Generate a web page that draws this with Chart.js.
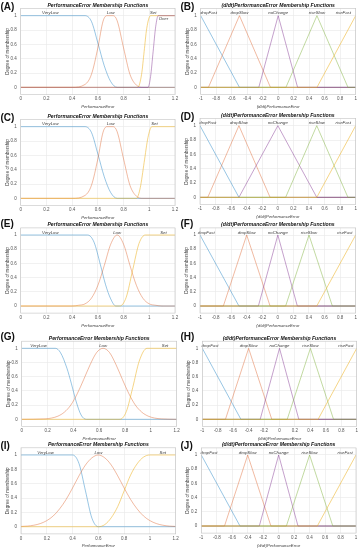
<!DOCTYPE html>
<html>
<head>
<meta charset="utf-8">
<script src="https://cdn.jsdelivr.net/npm/chart.js@4"></script>
<style>
  html, body { margin: 0; padding: 0; background: #fff; }
  #fig { position: relative; width: 360px; height: 550px; overflow: hidden; font-family: "Liberation Sans", Arial, sans-serif; }
  #fig canvas { position: absolute; }
  .tag { position: absolute; font-weight: bold; font-size: 10px; line-height: 10px; color: #111; }
</style>
</head>
<body>
<div id="fig"></div>
<script>
// ── TICKS & NAMES ───────────────────────────────
const errTicks  = [0, 0.2, 0.4, 0.6, 0.8, 1, 1.2];
const dErrTicks = [-1, -0.8, -0.6, -0.4, -0.2, 0, 0.2, 0.4, 0.6, 0.8, 1];
const degTicks  = [0, 0.2, 0.4, 0.6, 0.8, 1];
const errNames  = ['VeryLow', 'Low', 'Set', 'Over'];
const dErrNames = ['dropFast', 'dropSlow', 'noChange', 'riseSlow', 'riseFast'];

// ── (A) ─────────────────────────────────────────
const aVeryLow = [[0,1],[0.5,1],[0.55,0.92],[0.6,0.62],[0.65,0.3],[0.7,0.08],[0.75,0],[1.2,0]];
const aLow     = [[0,0],[0.4,0],[0.5,0.04],[0.55,0.18],[0.6,0.55],[0.64,0.92],[0.67,1],[0.72,1],[0.75,0.93],[0.8,0.55],[0.85,0.18],[0.9,0.03],[0.95,0],[1.2,0]];
const aSet     = [[0,0],[0.91,0],[0.94,0.18],[0.96,0.5],[0.98,0.82],[1.01,1],[1.2,1]];
const aOver    = [[0,0],[0.99,0],[1.01,0.15],[1.03,0.5],[1.05,0.85],[1.07,1],[1.2,1]];
const aLabelX  = [0.23, 0.7, 1.03, 1.11];
const aLabelY  = [1.035, 1.035, 1.035, 0.95];

// ── (B) ─────────────────────────────────────────
const bDropFast = [[-1,1],[-0.5,0],[1,0]];
const bDropSlow = [[-1,0],[-0.9,0],[-0.5,1],[-0.1,0],[1,0]];
const bNoChange = [[-1,0],[-0.25,0],[0,1],[0.25,0],[1,0]];
const bRiseSlow = [[-1,0],[0.1,0],[0.5,1],[0.9,0],[1,0]];
const bRiseFast = [[-1,0],[0.5,0],[1,1]];
const bLabelX   = [-0.9, -0.5, 0, 0.5, 0.84];

// ── (C) ─────────────────────────────────────────
const cVeryLow = [[0,1],[0.5,1],[0.55,0.92],[0.6,0.62],[0.65,0.3],[0.7,0.08],[0.75,0],[1.2,0]];
const cLow     = [[0,0],[0.4,0],[0.5,0.04],[0.55,0.18],[0.6,0.55],[0.64,0.92],[0.67,1],[0.72,1],[0.75,0.93],[0.8,0.55],[0.85,0.18],[0.9,0.03],[0.95,0],[1.2,0]];
const cSet     = [[0,0],[0.9,0],[0.93,0.15],[0.96,0.5],[0.99,0.85],[1.02,1],[1.2,1]];
const cLabelX  = [0.23, 0.7, 1.04];

// ── (D) ─────────────────────────────────────────
const dDropFast = [[-1,1],[-0.5,0],[1,0]];
const dDropSlow = [[-1,0],[-0.9,0],[-0.5,1],[-0.1,0],[1,0]];
const dNoChange = [[-1,0],[-0.5,0],[0,1],[0.5,0],[1,0]];
const dRiseSlow = [[-1,0],[0.1,0],[0.5,1],[0.9,0],[1,0]];
const dRiseFast = [[-1,0],[0.5,0],[1,1]];
const dLabelX   = [-0.9, -0.5, 0, 0.5, 0.84];

// ── (E) ─────────────────────────────────────────
const eVeryLow = [[0,1],[0.52,1],[0.57,0.9],[0.62,0.58],[0.66,0.3],[0.7,0.1],[0.74,0],[1.2,0]];
const eLow     = [[0,0],[0.4,0],[0.45,0.01],[0.5,0.03],[0.55,0.11],[0.6,0.29],[0.65,0.57],[0.7,0.87],[0.75,1],[0.8,0.87],[0.85,0.57],[0.9,0.29],[0.95,0.11],[1,0.03],[1.05,0.01],[1.1,0],[1.2,0]];
const eSet     = [[0,0],[0.77,0],[0.82,0.12],[0.87,0.5],[0.92,0.88],[0.97,1],[1.2,1]];
const eLabelX  = [0.23, 0.75, 1.11];

// ── (F) ─────────────────────────────────────────
const fDropFast = [[-1,1],[-0.5,0],[1,0]];
const fDropSlow = [[-1,0],[-0.7,0],[-0.4,1],[-0.1,0],[1,0]];
const fNoChange = [[-1,0],[-0.25,0],[0,1],[0.25,0],[1,0]];
const fRiseSlow = [[-1,0],[0.1,0],[0.4,1],[0.7,0],[1,0]];
const fRiseFast = [[-1,0],[0.5,0],[1,1]];
const fLabelX   = [-0.92, -0.4, 0, 0.4, 0.86];

// ── (G) ─────────────────────────────────────────
const gVeryLow = [[0,1],[0.26,1],[0.3,0.94],[0.35,0.72],[0.385,0.5],[0.42,0.26],[0.46,0.06],[0.5,0],[1.2,0]];
const gLow     = [[0,0],[0.18,0.006],[0.23,0.017],[0.28,0.044],[0.33,0.1],[0.38,0.2],[0.43,0.36],[0.48,0.56],[0.53,0.77],[0.58,0.94],[0.63,1],[0.68,0.94],[0.73,0.77],[0.78,0.56],[0.83,0.36],[0.88,0.2],[0.93,0.1],[0.98,0.044],[1.03,0.017],[1.08,0.006],[1.2,0]];
const gSet     = [[0,0],[0.76,0],[0.81,0.11],[0.86,0.45],[0.91,0.82],[0.97,1],[1.2,1]];
const gLabelX  = [0.13, 0.63, 1.11];

// ── (H) ─────────────────────────────────────────
const hDropFast = [[-1,1],[-0.5,0],[1,0]];
const hDropSlow = [[-1,0],[-0.7,0],[-0.4,1],[-0.1,0],[1,0]];
const hNoChange = [[-1,0],[-0.25,0],[0,1],[0.25,0],[1,0]];
const hRiseSlow = [[-1,0],[0.1,0],[0.4,1],[0.7,0],[1,0]];
const hRiseFast = [[-1,0],[0.5,0],[1,1]];
const hLabelX   = [-0.9, -0.4, 0, 0.4, 0.86];

// ── (I) ─────────────────────────────────────────
const iVeryLow = [[0,1],[0.4,1],[0.45,0.88],[0.5,0.5],[0.55,0.12],[0.6,0],[1.2,0]];
const iLow     = [[0,0.004],[0.05,0.009],[0.1,0.021],[0.15,0.044],[0.2,0.085],[0.25,0.15],[0.3,0.25],[0.35,0.38],[0.4,0.54],[0.45,0.71],[0.5,0.86],[0.55,0.96],[0.6,1],[0.65,0.96],[0.7,0.86],[0.75,0.71],[0.8,0.54],[0.85,0.38],[0.9,0.25],[0.95,0.15],[1,0.085],[1.05,0.044],[1.1,0.021],[1.15,0.009],[1.2,0.004]];
const iSet     = [[0,0],[0.6,0],[0.65,0.03],[0.7,0.125],[0.75,0.28],[0.8,0.5],[0.85,0.72],[0.9,0.875],[0.95,0.97],[1,1],[1.2,1]];
const iLabelX  = [0.19, 0.6, 1.1];

// ── (J) ─────────────────────────────────────────
const jDropFast = [[-1,1],[-0.5,0],[1,0]];
const jDropSlow = [[-1,0],[-0.7,0],[-0.4,1],[-0.1,0],[1,0]];
const jNoChange = [[-1,0],[-0.25,0],[0,1],[0.25,0],[1,0]];
const jRiseSlow = [[-1,0],[0.1,0],[0.4,1],[0.7,0],[1,0]];
const jRiseFast = [[-1,0],[0.5,0],[1,1]];
const jLabelX   = [-0.9, -0.4, 0, 0.4, 0.86];

// ── STYLE ───────────────────────────────────────
const FONT = '"Liberation Sans", Arial, sans-serif';
const BLUE = 'rgba(0,114,189,0.45)', ORANGE = 'rgba(217,83,25,0.45)', YELLOW = 'rgba(237,177,32,0.6)',
      PURPLE = 'rgba(126,47,142,0.5)', GREEN = 'rgba(119,172,48,0.5)';
const errColors  = [BLUE, ORANGE, YELLOW, PURPLE];
const dErrColors = [BLUE, ORANGE, PURPLE, GREEN, YELLOW];

// tag, column, tag top, plot box [left, top, right, bottom] in page px
const panels = [
  { tag:'(A)', col:0, tagTop:2.1,   box:[20.7, 8.5, 175, 94.5],     kind:'err',  curves:[aVeryLow,aLow,aSet,aOver], lx:aLabelX, ly:aLabelY },
  { tag:'(B)', col:1, tagTop:2.1,   box:[200.7, 8.5, 355.7, 94.5],  kind:'dErr', curves:[bDropFast,bDropSlow,bNoChange,bRiseSlow,bRiseFast], lx:bLabelX },
  { tag:'(C)', col:0, tagTop:112.8, box:[20.7, 119.5, 175, 205.5], kind:'err',  curves:[cVeryLow,cLow,cSet], lx:cLabelX },
  { tag:'(D)', col:1, tagTop:112.1, box:[200, 118.5, 355.7, 204.5], kind:'dErr', curves:[dDropFast,dDropSlow,dNoChange,dRiseSlow,dRiseFast], lx:dLabelX },
  { tag:'(E)', col:0, tagTop:218.5, box:[20.7, 227.9, 175, 313.1], kind:'err',  curves:[eVeryLow,eLow,eSet], lx:eLabelX },
  { tag:'(F)', col:1, tagTop:218.5, box:[200, 227.9, 355.7, 313.1], kind:'dErr', curves:[fDropFast,fDropSlow,fNoChange,fRiseSlow,fRiseFast], lx:fLabelX },
  { tag:'(G)', col:0, tagTop:332.1, box:[21.7, 341.2, 176.7, 426.4], kind:'err', curves:[gVeryLow,gLow,gSet], lx:gLabelX },
  { tag:'(H)', col:1, tagTop:332.1, box:[202.3, 341.2, 356.7, 426.4], kind:'dErr', curves:[hDropFast,hDropSlow,hNoChange,hRiseSlow,hRiseFast], lx:hLabelX },
  { tag:'(I)', col:0, tagTop:440.5, box:[21, 447.8, 175.7, 533.9],  kind:'err',  curves:[iVeryLow,iLow,iSet], lx:iLabelX },
  { tag:'(J)', col:1, tagTop:440.5, box:[201.3, 447.9, 356, 533.1], kind:'dErr', curves:[jDropFast,jDropSlow,jNoChange,jRiseSlow,jRiseFast], lx:jLabelX },
];

// ── PLUGINS ─────────────────────────────────────
const boxFrame = {
  id: 'boxFrame',
  afterDraw(chart) {
    const { ctx, chartArea: a } = chart;
    ctx.save();
    ctx.strokeStyle = '#c4c4c4';
    ctx.lineWidth = 0.6;
    ctx.strokeRect(a.left, a.top, a.right - a.left, a.bottom - a.top);
    ctx.restore();
  }
};

const mfLabels = {
  id: 'mfLabels',
  afterDatasetsDraw(chart, args, opts) {
    const { ctx, scales: { x, y } } = chart;
    ctx.save();
    ctx.font = 'italic 4.3px ' + FONT;
    ctx.fillStyle = '#3a3a3a';
    ctx.textAlign = 'center';
    ctx.textBaseline = 'middle';
    opts.names.forEach((n, i) => ctx.fillText(n, x.getPixelForValue(opts.xs[i]), y.getPixelForValue(opts.ys[i])));
    ctx.restore();
  }
};

// ── BUILD ───────────────────────────────────────
Chart.defaults.font.family = FONT;
const fig = document.getElementById('fig');

function makePanel(p) {
  const isErr = p.kind === 'err';
  const [pl, pt, pr, pb] = p.box;
  const left = p.col * 180;
  const top = Math.floor(pt) - 9;
  const bottom = Math.ceil(pb) + 16;
  const h = bottom - top;
  const yw = pl - left;
  const xh = bottom - pb;
  const titleH = pt - top;
  const titleSize = 5.1;
  const titlePadTop = titleH - 3 - titleSize / 2;

  const tag = document.createElement('div');
  tag.className = 'tag';
  tag.textContent = p.tag;
  tag.style.left = (left + 0.5) + 'px';
  tag.style.top = p.tagTop + 'px';

  const canvas = document.createElement('canvas');
  canvas.width = 180; canvas.height = h;
  canvas.style.left = left + 'px';
  canvas.style.top = top + 'px';
  fig.appendChild(canvas);
  fig.appendChild(tag);

  const names = isErr ? errNames.slice(0, p.curves.length) : dErrNames;
  const colors = isErr ? errColors : dErrColors;
  const xTicks = isErr ? errTicks : dErrTicks;
  const xLabel = isErr ? 'PerformanceError' : '(d/dt)PerformanceError';

  new Chart(canvas, {
    type: 'line',
    data: {
      datasets: p.curves.map((c, i) => ({
        label: names[i],
        data: c.map(([x, y]) => ({ x, y })),
        borderColor: colors[i],
        borderWidth: 0.9,
        pointRadius: 0,
        fill: false,
        tension: 0,
        cubicInterpolationMode: isErr ? 'monotone' : 'default',
        order: p.curves.length - i,
      }))
    },
    options: {
      responsive: false, animation: false, devicePixelRatio: 1,
      events: [],
      layout: { padding: { left: 0, right: left + 180 - pr, top: 0, bottom: 0 } },
      plugins: {
        legend: { display: false },
        tooltip: { enabled: false },
        title: {
          display: true, fullSize: false,
          text: isErr ? 'PerformanceError Membership Functions' : '(d/dt)PerformanceError Membership Functions',
          color: '#111',
          font: { size: titleSize, weight: 'bold', style: 'italic', lineHeight: 1 },
          padding: { top: titlePadTop, bottom: titleH - titlePadTop - titleSize },
        },
        mfLabels: { names, xs: p.lx, ys: p.ly || names.map(() => 1.035) },
      },
      scales: {
        x: {
          type: 'linear', min: xTicks[0], max: xTicks[xTicks.length - 1],
          afterBuildTicks: s => { s.ticks = xTicks.map(v => ({ value: v })); },
          afterFit: s => { s.height = xh; s.paddingLeft = 0; s.paddingRight = 0; },
          ticks: { color: '#555', font: { size: 4.5 }, padding: 2, autoSkip: false, maxRotation: 0, callback: v => String(v) },
          grid: { color: '#e8e8e8', lineWidth: 0.6, drawTicks: false },
          border: { display: false },
          title: { display: true, text: xLabel, color: '#3a3a3a', font: { size: 4.2, style: 'italic', lineHeight: 1.2 }, padding: { top: 0, bottom: 1.4 } },
        },
        y: {
          type: 'linear', min: -0.1, max: 1.1,
          afterBuildTicks: s => { s.ticks = degTicks.map(v => ({ value: v })); },
          afterFit: s => { s.width = yw; s.paddingTop = 0; s.paddingBottom = 0; },
          ticks: { color: '#555', font: { size: 4.5 }, padding: 4, callback: v => String(v) },
          grid: { color: '#e8e8e8', lineWidth: 0.6, drawTicks: false },
          border: { display: false },
          title: { display: true, text: 'Degree of membership', color: '#3a3a3a', font: { size: 4.6, lineHeight: 1.2 }, padding: { top: yw - 13.4 - 2.76, bottom: 0 } },
        }
      }
    },
    plugins: [boxFrame, mfLabels]
  });
}

panels.forEach(makePanel);
</script>
</body>
</html>
